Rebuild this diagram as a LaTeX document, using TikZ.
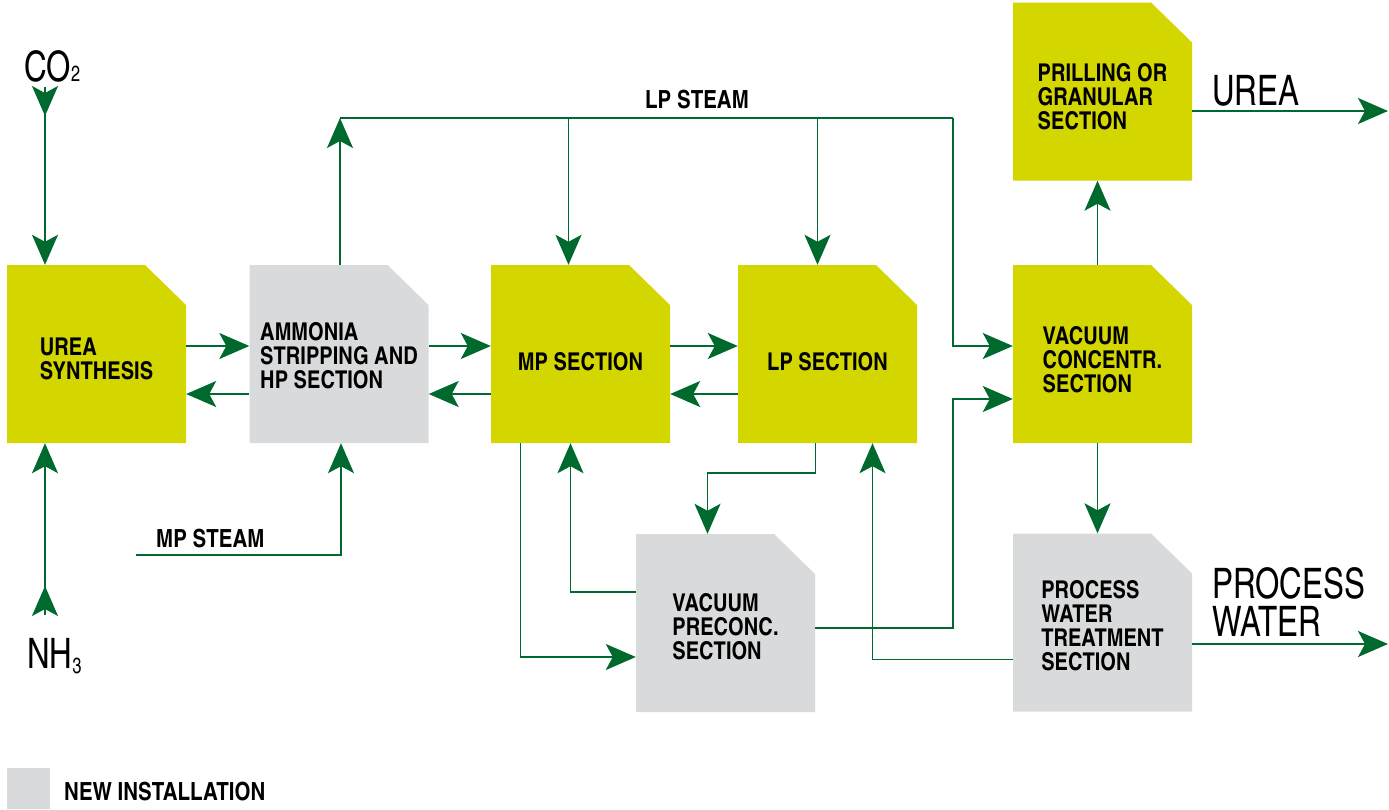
\documentclass[tikz,border=0pt]{standalone}
\usepackage{fontspec}
\usetikzlibrary{arrows.meta}
\newfontfamily\cnfont{texgyreheroscn}[Extension=.otf, UprightFont=*-regular, BoldFont=*-bold]
\newfontfamily\cnlabel{texgyreheroscn}[Extension=.otf, UprightFont=*-regular, FakeStretch=0.91]

\definecolor{unityellow}{RGB}{212,214,0}
\definecolor{unitgray}{RGB}{217,218,220}
\definecolor{flowgreen}{RGB}{0,106,46}

\tikzset{
  unit/.style = {minimum width=179pt, minimum height=178pt, inner sep=0pt, align=left,
    font=\cnfont\bfseries\fontsize{24.5}{24}\selectfont,
    path picture={\fill[#1] (path picture bounding box.south west)
      |- ([xshift=-41pt]path picture bounding box.north east)
      -- ([yshift=-40pt]path picture bounding box.north east)
      -- (path picture bounding box.south east) -- cycle;}},
  unit/.default = unityellow,
  flow/.style = {draw=flowgreen, line width=1.8pt, -{Stealth[length=30pt, width=26pt, inset=7pt]}},
  line/.style = {draw=flowgreen, line width=1.8pt},
  stream/.style = {inner sep=0pt, font=\cnlabel\fontsize{42}{38}\selectfont, align=left},
  tag/.style = {inner sep=0pt, font=\cnfont\bfseries\fontsize{25}{24}\selectfont}
}

\begin{document}
\begin{tikzpicture}[x=1pt, y=-1pt]
\useasboundingbox (0,0) rectangle (1389,809);

% process units
\node[unit, text height=52pt] (synth) at (96.5,354) {UREA\\SYNTHESIS};
\node[unit=unitgray, text height=70pt] (amm) at (339,354) {AMMONIA\\STRIPPING AND\\HP SECTION};
\node[unit, text height=34pt] (mp) at (580.5,354) {MP SECTION};
\node[unit, text height=34pt] (lp) at (827.5,354) {LP SECTION};
\node[unit, text height=78pt] (vconc) at (1102.5,354) {VACUUM\\CONCENTR.\\SECTION};
\node[unit, text height=77pt] (prill) at (1102.5,91.5) {PRILLING OR\\GRANULAR\\SECTION};
\node[unit=unitgray, text height=74pt] (vpre) at (725.5,623) {VACUUM\\PRECONC.\\SECTION};
\node[unit=unitgray, text height=97pt] (pwt) at (1102.5,622.5) {PROCESS\\WATER\\TREATMENT\\SECTION};

% feeds and products
\node[stream, anchor=base west] (co2) at (24,81) {CO{\fontsize{22}{22}\selectfont 2}};
\node[stream, anchor=base west] (nh3) at (27,668) {NH\raisebox{-5pt}{\fontsize{22}{22}\selectfont 3}};
\node[stream, anchor=base west] (urea) at (1212,105) {UREA};
\node[stream, anchor=north west] (pw) at (1212,567) {PROCESS\\WATER};
\node[tag, anchor=base west] (lps) at (645,108) {LP STEAM};
\node[tag, anchor=base west] (mps) at (156,547) {MP STEAM};

\coordinate (co2in) at (45,87);
\coordinate (nh3in) at (45,615);
\coordinate (mpsin) at (136,555);
\coordinate (lpsr) at (953,118);
\coordinate (ureaout) at (1388,111);
\coordinate (pwout) at (1388,644);

% feeds
\draw[flow] (co2in) -- ++(0,29);
\draw[flow] (co2in) -- (co2in |- synth.north);
\draw[flow] (nh3in) -- ++(0,-29);
\draw[flow] (nh3in) -- (nh3in |- synth.south);
\draw[flow] (mpsin) -| ([xshift=2pt]amm.south);

% main train
\draw[flow] ([yshift=8pt]synth.east) -- ([yshift=8pt]amm.west);
\draw[flow] ([yshift=-40pt]amm.west) -- ([yshift=-40pt]synth.east);
\draw[flow] ([yshift=8pt]amm.east) -- ([yshift=8pt]mp.west);
\draw[flow] ([yshift=-40pt]mp.west) -- ([yshift=-40pt]amm.east);
\draw[flow] ([yshift=8pt]mp.east) -- ([yshift=8pt]lp.west);
\draw[flow] ([yshift=-40pt]lp.west) -- ([yshift=-40pt]mp.east);

% LP steam header
\draw[flow] ([xshift=1pt]amm.north) -- ([xshift=1pt]amm.north |- lpsr);
\draw[line] ([xshift=1pt]amm.north |- lpsr) -- (lpsr);
\draw[flow] (lpsr) |- ([yshift=8pt]vconc.west);
\draw[flow] ([xshift=-12pt]mp.north |- lpsr) -- ([xshift=-12pt]mp.north);
\draw[flow] ([xshift=-10pt]lp.north |- lpsr) -- ([xshift=-10pt]lp.north);

% preconcentration loop
\draw[flow] ([xshift=-60pt]mp.south) |- ([yshift=-34pt]vpre.west);
\draw[flow] ([yshift=31pt]vpre.west) -| ([xshift=-10pt]mp.south);
\draw[flow] ([xshift=-12pt]lp.south) -- ++(0,30) -| ([xshift=-18pt]vpre.north);
\draw[flow] ([yshift=-5pt]vpre.east) -| ([xshift=-60pt,yshift=-45pt]vconc.west) -- ([yshift=-45pt]vconc.west);
\draw[flow] ([yshift=-37pt]pwt.west) -| ([xshift=45pt]lp.south);

% finishing
\draw[flow] ([xshift=-5pt]vconc.south) -- ([xshift=-5pt]pwt.north);
\draw[flow] ([xshift=-5pt]vconc.north) -- ([xshift=-5pt]prill.south);
\draw[flow] ([yshift=-19.5pt]prill.east) -- (ureaout);
\draw[flow] ([yshift=-21.5pt]pwt.east) -- (pwout);

% legend
\node[fill=unitgray, minimum width=43pt, minimum height=41pt, inner sep=0pt] (newkey) at (28.5,788.5) {};
\node[tag, anchor=base west] (newtxt) at (64,800) {NEW INSTALLATION};
\end{tikzpicture}
\end{document}
